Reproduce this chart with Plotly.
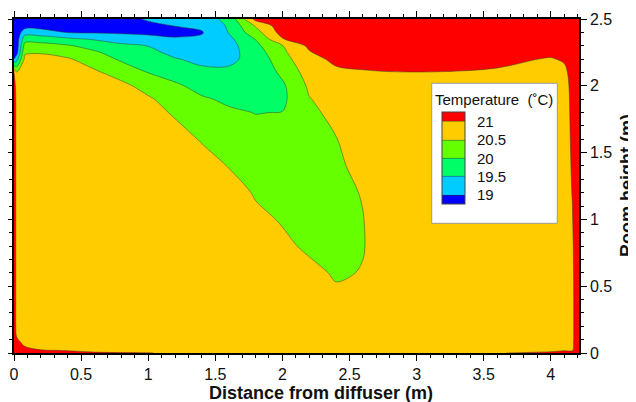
import numpy as np
import plotly.graph_objects as go

# grid (m)
distance = [0, 0.02, 0.08, 0.2, 0.4, 0.6, 0.8, 1.0, 1.2, 1.4, 1.6, 1.8,
            2.0, 2.2, 2.4, 2.6, 2.8, 3.2, 3.6, 4.0, 4.1, 4.16, 4.21]
height = [0, 0.02, 0.08, 0.2, 0.4, 0.6, 0.8, 1.0, 1.2, 1.4, 1.6, 1.8,
          1.9, 2.0, 2.1, 2.2, 2.25, 2.3, 2.35, 2.4, 2.45, 2.5]

# temperature profiles (deg C), one per distance, bottom -> ceiling
t_000 = [21.3, 21.3, 21.25, 21.2, 21.2, 21.2, 21.2, 21.2, 21.2, 21.2, 21.2, 21.2, 21.2, 21.15, 21.02, 19.0, 18.7, 18.6, 18.6, 18.6, 18.6, 18.6]
t_002 = [21.3, 21.15, 21.05, 20.9, 20.9, 20.9, 20.9, 20.9, 20.9, 20.9, 20.9, 20.9, 20.9, 20.85, 20.55, 19.3, 18.8, 18.7, 18.7, 18.7, 18.7, 18.7]
t_008 = [21.2, 21.05, 20.95, 20.85, 20.8, 20.8, 20.8, 20.8, 20.8, 20.8, 20.8, 20.8, 20.8, 20.8, 20.75, 20.6, 20.44, 20.17, 19.8, 19.25, 18.8, 18.7]
t_020 = [21.1, 21.01, 20.85, 20.8, 20.8, 20.8, 20.8, 20.8, 20.8, 20.8, 20.8, 20.8, 20.8, 20.8, 20.75, 20.62, 20.47, 20.18, 19.78, 19.2, 18.8, 18.7]
t_040 = [21.05, 20.99, 20.85, 20.8, 20.8, 20.8, 20.8, 20.8, 20.8, 20.8, 20.8, 20.8, 20.8, 20.8, 20.7, 20.55, 20.3, 20.05, 19.6, 18.98, 18.7, 18.6]
t_060 = [21.05, 20.9, 20.82, 20.8, 20.8, 20.8, 20.8, 20.8, 20.8, 20.8, 20.8, 20.8, 20.8, 20.72, 20.58, 20.25, 20.07, 19.8, 19.45, 18.95, 18.7, 18.6]
t_080 = [21.02, 20.88, 20.8, 20.8, 20.8, 20.8, 20.8, 20.8, 20.8, 20.8, 20.8, 20.8, 20.75, 20.63, 20.29, 19.93, 19.76, 19.59, 19.31, 18.92, 18.7, 18.7]
t_100 = [21.01, 20.85, 20.8, 20.8, 20.8, 20.8, 20.8, 20.8, 20.8, 20.8, 20.78, 20.68, 20.57, 20.31, 19.99, 19.75, 19.63, 19.49, 19.19, 18.88, 18.8, 19.1]
t_120 = [20.96, 20.82, 20.8, 20.8, 20.8, 20.8, 20.8, 20.8, 20.8, 20.8, 20.7, 20.44, 20.26, 20.07, 19.82, 19.53, 19.37, 19.22, 19.06, 18.85, 19.02, 19.25]
t_140 = [20.95, 20.82, 20.8, 20.8, 20.8, 20.8, 20.8, 20.8, 20.8, 20.7, 20.46, 20.19, 20.05, 19.86, 19.62, 19.38, 19.26, 19.15, 19.07, 18.97, 19.1, 19.3]
t_160 = [20.95, 20.82, 20.8, 20.8, 20.8, 20.8, 20.8, 20.8, 20.75, 20.48, 20.27, 20.06, 19.93, 19.76, 19.59, 19.4, 19.33, 19.3, 19.38, 19.52, 19.56, 19.62]
t_180 = [20.95, 20.82, 20.8, 20.8, 20.8, 20.8, 20.8, 20.62, 20.45, 20.3, 20.15, 19.99, 19.85, 19.72, 19.62, 19.66, 19.75, 19.88, 20.02, 20.3, 20.55, 21.15]
t_200 = [20.95, 20.82, 20.8, 20.8, 20.8, 20.8, 20.6, 20.46, 20.34, 20.23, 20.12, 20.01, 19.9, 19.92, 20.1, 20.3, 20.4, 20.48, 20.98, 21.2, 21.3, 21.3]
t_220 = [20.95, 20.82, 20.8, 20.8, 20.8, 20.62, 20.42, 20.33, 20.3, 20.3, 20.33, 20.42, 20.48, 20.58, 20.72, 20.88, 20.96, 21.1, 21.2, 21.3, 21.3, 21.3]
t_240 = [20.95, 20.82, 20.8, 20.8, 20.6, 20.45, 20.4, 20.38, 20.4, 20.44, 20.49, 20.6, 20.7, 20.8, 20.93, 21.08, 21.3, 21.3, 21.3, 21.3, 21.3, 21.3]
t_260 = [20.95, 20.82, 20.8, 20.8, 20.7, 20.52, 20.48, 20.49, 20.52, 20.6, 20.65, 20.72, 20.78, 20.85, 20.97, 21.12, 21.3, 21.3, 21.3, 21.3, 21.3, 21.3]
t_280 = [20.95, 20.82, 20.78, 20.78, 20.78, 20.76, 20.75, 20.75, 20.76, 20.78, 20.78, 20.8, 20.82, 20.88, 20.99, 21.15, 21.3, 21.3, 21.3, 21.3, 21.3, 21.3]
t_320 = [20.95, 20.82, 20.8, 20.8, 20.8, 20.8, 20.8, 20.8, 20.8, 20.8, 20.8, 20.8, 20.82, 20.88, 20.99, 21.15, 21.3, 21.3, 21.3, 21.3, 21.3, 21.3]
t_360 = [20.98, 20.85, 20.8, 20.8, 20.8, 20.8, 20.8, 20.8, 20.8, 20.8, 20.8, 20.8, 20.82, 20.85, 20.95, 21.1, 21.3, 21.3, 21.3, 21.3, 21.3, 21.3]
t_400 = [21.1, 20.9, 20.82, 20.8, 20.8, 20.8, 20.8, 20.8, 20.8, 20.8, 20.8, 20.8, 20.82, 20.84, 20.86, 20.97, 21.1, 21.3, 21.3, 21.3, 21.3, 21.3]
t_410 = [21.2, 20.97, 20.85, 20.85, 20.85, 20.85, 20.85, 20.85, 20.85, 20.85, 20.85, 20.85, 20.85, 20.86, 20.9, 21.05, 21.3, 21.3, 21.3, 21.3, 21.3, 21.3]
t_416 = [21.3, 20.97, 20.93, 20.92, 20.92, 20.93, 20.95, 20.98, 21.01, 21.03, 21.05, 21.07, 21.08, 21.1, 21.15, 21.3, 21.3, 21.3, 21.3, 21.3, 21.3, 21.3]
t_421 = [21.3, 21.3, 21.3, 21.3, 21.3, 21.3, 21.3, 21.3, 21.3, 21.3, 21.3, 21.3, 21.3, 21.3, 21.3, 21.3, 21.3, 21.3, 21.3, 21.3, 21.3, 21.3]

levels = [19, 19.5, 20, 20.5, 21]
level_labels = ['19', '19.5', '20', '20.5', '21']
band_colors = ['#0000FF', '#00CCFF', '#00FF66', '#66FF00', '#FFCC00', '#FF0000']

columns = [t_000, t_002, t_008, t_020, t_040, t_060, t_080, t_100, t_120, t_140, t_160, t_180,
           t_200, t_220, t_240, t_260, t_280, t_320, t_360, t_400, t_410, t_416, t_421]
z = np.array(columns).T

# stepped colorscale: one flat colour per band
n = len(band_colors)
cscale = []
for i, c in enumerate(band_colors):
    cscale.append([i / n, c])
    cscale.append([(i + 1) / n, c])

font = 'Liberation Sans, Arial, sans-serif'

trace = go.Contour(
    x=distance, y=height, z=z,
    autocontour=False,
    contours=dict(start=levels[0], end=levels[-1], size=0.5, coloring='fill', showlines=True),
    colorscale=cscale,
    line=dict(color='rgba(50,60,50,0.7)', width=0.7, smoothing=1),
    colorbar=dict(
        x=0.757, xanchor='left', y=0.7207, yanchor='top',
        len=92, lenmode='pixels', thickness=23, thicknessmode='pixels',
        xpad=0, ypad=0,
        bgcolor='rgba(0,0,0,0)', borderwidth=0,
        outlinewidth=1, outlinecolor='#444444',
        tickvals=levels, ticktext=level_labels,
        ticks='outside', ticklen=9, tickcolor='rgba(0,0,0,0)',
        tickfont=dict(family=font, size=15, color='#111'),
    ),
    hoverinfo='skip',
)

layout = go.Layout(
    # page body adds an 8px margin, so the figure is 8px smaller than the window
    width=628, height=394,
    margin=dict(l=6, r=57, t=11, b=49, autoexpand=False),
    paper_bgcolor='white', plot_bgcolor='white',
    font=dict(family=font, size=16, color='#111'),
    xaxis=dict(range=[0, 4.21], dtick=0.5, tick0=0, showgrid=False, zeroline=False,
               showline=True, linecolor='black', linewidth=1.5, mirror='ticks',
               ticks='outside', ticklen=6, tickwidth=1, tickcolor='black',
               minor=dict(dtick=0.1, ticks='outside', ticklen=3, tickcolor='black')),
    yaxis=dict(range=[0, 2.5], dtick=0.5, tick0=0, side='right', showgrid=False, zeroline=False,
               showline=True, linecolor='black', linewidth=1.5, mirror='ticks',
               ticks='outside', ticklen=6, tickwidth=1, tickcolor='black',
               minor=dict(dtick=0.1, ticks='outside', ticklen=3, tickcolor='black')),
    shapes=[
        # legend box
        dict(type='rect', xref='paper', yref='paper', x0=0.7393, x1=0.9616, y0=0.3883, y1=0.8075,
             fillcolor='white', line=dict(color='#999999', width=1), layer='above'),
    ],
    annotations=[
        dict(text='Temperature\u00a0 (\u02daC)', xref='paper', yref='paper',
             x=0.7416, y=0.760, xanchor='left', yanchor='middle', showarrow=False,
             font=dict(family=font, size=15, color='#111')),
        dict(text='<b>Distance from diffuser (m)</b>', xref='paper', yref='paper',
             x=0.543, y=-0.12, xanchor='center', yanchor='middle', showarrow=False,
             font=dict(family=font, size=18, color='#111')),
        dict(text='<b>Room height (m)</b>', xref='paper', yref='paper',
             x=1.085, y=0.5, xanchor='center', yanchor='middle', textangle=-90, showarrow=False,
             font=dict(family=font, size=18, color='#111')),
    ],
)

fig = go.Figure([trace], layout=layout)
fig.write_html("out.html")
